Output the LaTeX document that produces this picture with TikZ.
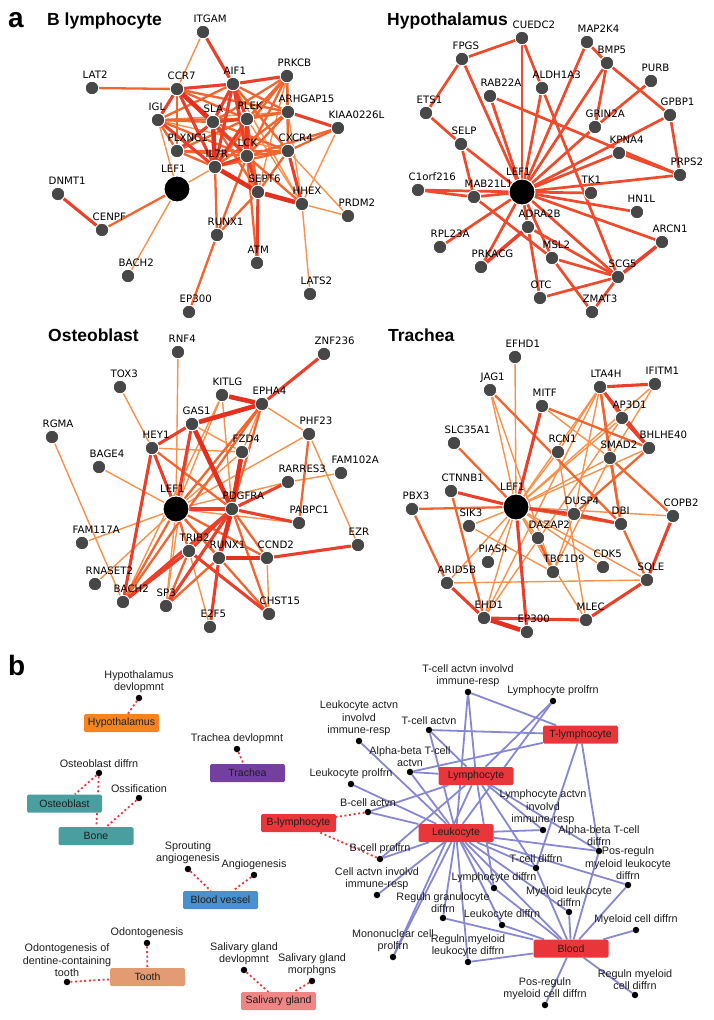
\documentclass[tikz,border=0pt]{standalone}
\usepackage{fontspec}
\setmainfont{Liberation Sans}
\newfontfamily\dvs{DejaVu Sans}
\pgfdeclarelayer{bg}
\pgfdeclarelayer{paper}
\pgfsetlayers{paper,bg,main}
\definecolor{cL}{HTML}{F7914C}
\definecolor{cM}{HTML}{F2652F}
\definecolor{cR}{HTML}{E8402A}
\definecolor{cT}{HTML}{E4301F}
\definecolor{cH}{HTML}{EE4B2D}
\definecolor{nd}{HTML}{474747}
\definecolor{blu}{RGB}{136,136,210}
\definecolor{rdd}{HTML}{E8393C}
\definecolor{bxred}{HTML}{E8363B}
\definecolor{bxorg}{HTML}{F5841F}
\definecolor{bxpur}{HTML}{7340A0}
\definecolor{bxtea}{HTML}{4A9EA0}
\definecolor{bxblu}{HTML}{4A90CC}
\definecolor{bxtan}{HTML}{E29B72}
\definecolor{bxpnk}{HTML}{F08585}
\definecolor{txt}{HTML}{1E1E1E}
\tikzset{
 gn/.style={circle,fill=nd,draw=white,line width=0.9pt,minimum size=13.5pt,inner sep=0pt},
 bign/.style={circle,fill=black,draw=white,line width=0.9pt,minimum size=26pt,inner sep=0pt},
 lb/.style={font=\dvs\fontsize{10.2}{11}\selectfont,inner sep=0pt,anchor=base west,text=black},
 eL/.style={draw=cL,line width=1.4pt},
 eM/.style={draw=cM,line width=2.3pt},
 eR/.style={draw=cR,line width=3.1pt},
 eT/.style={draw=cT,line width=4.6pt},
 eH/.style={draw=cH,line width=2.7pt},
 eHt/.style={draw=cR,line width=3.5pt},
 ttl/.style={font=\bfseries\fontsize{17.5}{20}\selectfont,anchor=base west,inner sep=0pt},
 pan/.style={font=\bfseries\fontsize{28}{30}\selectfont,anchor=base west,inner sep=0pt},
 bx/.style={rectangle,rounded corners=1.5pt,minimum width=75pt,minimum height=18pt,inner sep=0pt,text=txt,font=\fontsize{10.5}{12}\selectfont},
 dt/.style={circle,fill=black,minimum size=6.5pt,inner sep=0pt},
 dl/.style={font=\fontsize{10.8}{12.5}\selectfont,align=center,inner sep=0pt,text=txt},
 bE/.style={draw=blu,line width=1.8pt},
 rE/.style={draw=rdd,line width=1.8pt,dash pattern=on 2pt off 2.6pt},
}
\newcommand\gnode[4]{\node[gn] (#1) at (#2,#3) {}; \node[lb] (#1l) at ({#2-9.5},{#3-9.5}) {#4};}
\newcommand\bnode[3]{\node[bign] (#1) at (#2,#3) {}; \node[lb] (#1l) at ({#2-16},{#3-16.5}) {LEF1};}
\newcommand\dnode[4]{\node[dt,label={[dl,label distance=1.5pt]above:{#4}}] (#1) at (#2,#3) {};}
\begin{document}
\begin{tikzpicture}[x=1pt,y=-1pt]
\begin{pgfonlayer}{paper}
\fill[white] (0,0) rectangle (714,1020);
\end{pgfonlayer}
\useasboundingbox (0,0) rectangle (714,1020);
% ---------- panel labels and titles
\node[pan] (pa) at (8,27) {a};
\node[pan] (pb) at (8,675) {b};
\node[ttl] (t1) at (47,25) {B lymphocyte};
\node[ttl] (t2) at (387,25) {Hypothalamus};
\node[ttl] (t3) at (48,341) {Osteoblast};
\node[ttl] (t4) at (388,341) {Trachea};
% ---------- B lymphocyte
\gnode{AITGAM}{203}{32}{ITGAM}
\gnode{AAIF1}{233}{84}{AIF1}
\gnode{APRKCB}{287}{76}{PRKCB}
\gnode{ALAT2}{92}{88}{LAT2}
\gnode{ACCR7}{177}{89}{CCR7}
\gnode{AIGL}{158}{120}{IGL}
\gnode{ASLA}{213}{122}{SLA}
\gnode{APLEK}{247}{119}{PLEK}
\gnode{AARHGAP15}{288}{112}{ARHGAP15}
\gnode{AKIAA}{338}{128}{KIAA0226L}
\gnode{APLXNC1}{177}{151}{PLXNC1}
\gnode{ALCK}{247}{156}{LCK}
\gnode{ACXCR4}{288}{151}{CXCR4}
\gnode{AIL7R}{215}{167}{IL7R}
\bnode{ALEF1}{177}{189}
\gnode{ASEPT6}{258}{192}{SEPT6}
\gnode{AHHEX}{302}{204}{HHEX}
\gnode{APRDM2}{348}{216}{PRDM2}
\gnode{ADNMT1}{58}{194}{DNMT1}
\gnode{ACENPF}{102}{230}{CENPF}
\gnode{ARUNX1}{217}{235}{RUNX1}
\gnode{AATM}{257}{263}{ATM}
\gnode{ABACH2}{128}{276}{BACH2}
\gnode{ALATS2}{310}{294}{LATS2}
\gnode{AEP300}{189}{312}{EP300}
% ---------- Hypothalamus
\gnode{HCUEDC2}{522}{38}{CUEDC2}
\gnode{HMAP2K4}{587}{42}{MAP2K4}
\gnode{HFPGS}{462}{59}{FPGS}
\gnode{HBMP5}{607}{63}{BMP5}
\gnode{HPURB}{651}{81}{PURB}
\gnode{HALDH1A3}{542}{88}{ALDH1A3}
\gnode{HRAB22A}{490}{96}{RAB22A}
\gnode{HETS1}{426}{113}{ETS1}
\gnode{HGPBP1}{670}{115}{GPBP1}
\gnode{HGRIN2A}{595}{127}{GRIN2A}
\gnode{HSELP}{461}{144}{SELP}
\gnode{HKPNA4}{619}{153}{KPNA4}
\gnode{HPRPS2}{680}{175}{PRPS2}
\gnode{HC1orf216}{418}{190}{C1orf216}
\gnode{HMAB21L1}{474}{197}{MAB21L1}
\bnode{HLEF1}{522}{192}
\gnode{HTK1}{591}{193}{TK1}
\gnode{HHN1L}{637}{212}{HN1L}
\gnode{HADRA2B}{528}{227}{ADRA2B}
\gnode{HRPL23A}{440}{247}{RPL23A}
\gnode{HARCN1}{662}{242}{ARCN1}
\gnode{HMSL2}{552}{258}{MSL2}
\gnode{HPRKACG}{481}{267}{PRKACG}
\gnode{HSCG5}{618}{277}{SCG5}
\gnode{HOTC}{540}{298}{OTC}
\gnode{HZMAT3}{592}{312}{ZMAT3}
% ---------- Osteoblast
\gnode{ORNF4}{178}{352}{RNF4}
\gnode{OZNF236}{324}{354}{ZNF236}
\gnode{OTOX3}{120}{387}{TOX3}
\gnode{OKITLG}{222}{395}{KITLG}
\gnode{OEPHA4}{262}{404}{EPHA4}
\gnode{OGAS1}{192}{424}{GAS1}
\gnode{ORGMA}{52}{437}{RGMA}
\gnode{OPHF23}{309}{434}{PHF23}
\gnode{OHEY1}{152}{448}{HEY1}
\gnode{OFZD4}{242}{452}{FZD4}
\gnode{OBAGE4}{99}{467}{BAGE4}
\gnode{OFAM102A}{341}{473}{FAM102A}
\gnode{ORARRES3}{288}{482}{RARRES3}
\bnode{OLEF1}{176}{509}
\gnode{OPDGFRA}{232}{509}{PDGFRA}
\gnode{OPABPC1}{299}{523}{PABPC1}
\gnode{OFAM117A}{82}{543}{FAM117A}
\gnode{OEZR}{358}{545}{EZR}
\gnode{OTRIB2}{189}{551}{TRIB2}
\gnode{ORUNX1}{219}{558}{RUNX1}
\gnode{OCCND2}{267}{558}{CCND2}
\gnode{ORNASET2}{95}{584}{RNASET2}
\gnode{OBACH2}{123}{602}{BACH2}
\gnode{OSP3}{166}{606}{SP3}
\gnode{OCHST15}{269}{614}{CHST15}
\gnode{OE2F5}{210}{627}{E2F5}
% ---------- Trachea
\gnode{TEFHD1}{515}{357}{EFHD1}
\gnode{TIFITM1}{655}{384}{IFITM1}
\gnode{TLTA4H}{600}{387}{LTA4H}
\gnode{TJAG1}{490}{390}{JAG1}
\gnode{TMITF}{542}{406}{MITF}
\gnode{TAP3D1}{622}{418}{AP3D1}
\gnode{TSLC35A1}{454}{443}{SLC35A1}
\gnode{TBHLHE40}{649}{448}{BHLHE40}
\gnode{TRCN1}{558}{452}{RCN1}
\gnode{TSMAD2}{610}{458}{SMAD2}
\gnode{TCTNNB1}{451}{491}{CTNNB1}
\bnode{TLEF1}{516}{507}
\gnode{TPBX3}{412}{509}{PBX3}
\gnode{TDUSP4}{574}{514}{DUSP4}
\gnode{TCOPB2}{673}{516}{COPB2}
\gnode{TDBI}{621}{524}{DBI}
\gnode{TSIK3}{469}{526}{SIK3}
\gnode{TDAZAP2}{538}{538}{DAZAP2}
\gnode{TPIAS4}{488}{562}{PIAS4}
\gnode{TCDK5}{603}{567}{CDK5}
\gnode{TTBC1D9}{553}{572}{TBC1D9}
\gnode{TSQLE}{647}{580}{SQLE}
\gnode{TARID5B}{447}{583}{ARID5B}
\gnode{TEHD1}{484}{618}{EHD1}
\gnode{TMLEC}{586}{620}{MLEC}
\gnode{TEP300}{527}{632}{EP300}
% ---------- panel b boxes
\node[bx,fill=bxorg] (xHyp) at (121.5,723) {Hypothalamus};
\node[bx,fill=bxpur] (xTra) at (247.5,773) {Trachea};
\node[bx,fill=bxtea] (xOst) at (64.5,803.5) {Osteoblast};
\node[bx,fill=bxtea] (xBone) at (96,836) {Bone};
\node[bx,fill=bxblu] (xBv) at (220.5,900) {Blood vessel};
\node[bx,fill=bxtan] (xTooth) at (147.5,977) {Tooth};
\node[bx,fill=bxpnk] (xSal) at (278.5,1001) {Salivary gland};
\node[bx,fill=bxred] (xTly) at (580.5,734.5) {T-lymphocyte};
\node[bx,fill=bxred] (xLym) at (476,776) {Lymphocyte};
\node[bx,fill=bxred] (xBl) at (298.5,823) {B-lymphocyte};
\node[bx,fill=bxred] (xLeu) at (456,833) {Leukocyte};
\node[bx,fill=bxred] (xBlood) at (571,948.5) {Blood};
% ---------- panel b dots
\dnode{dHyp}{139}{698}{Hypothalamus\\devlopmnt}
\dnode{dTra}{237}{749}{Trachea devlopmnt}
\dnode{dOst}{99}{773}{Osteoblast diffrn}
\dnode{dOss}{139}{798}{Ossification}
\dnode{dSpr}{188}{869}{Sprouting\\angiogenesis}
\dnode{dAng}{254}{875}{Angiogenesis}
\dnode{dOdo}{147}{943}{Odontogenesis}
\dnode{dOdt}{67}{982}{Odontogenesis of\\dentine-containing\\tooth}
\dnode{dSgd}{244}{970}{Salivary gland\\devlopmnt}
\dnode{dSgm}{312}{981}{Salivary gland\\morphgns}
\dnode{dTai}{468}{692}{T-cell actvn involvd\\immune-resp}
\dnode{dLpr}{553}{701}{Lymphocyte prolfrn}
\dnode{dLai}{359}{741}{Leukocyte actvn\\involvd\\immune-resp}
\dnode{dTca}{429}{730}{T-cell actvn}
\dnode{dAba}{410}{772}{Alpha-beta T-cell\\actvn}
\dnode{dLkp}{351}{784}{Leukocyte prolfrn}
\dnode{dBca}{368}{812}{B-cell actvn}
\dnode{dLyai}{543}{830}{Lymphocyte actvn\\involvd\\immune-resp}
\dnode{dAbd}{599}{851}{Alpha-beta T-cell\\diffrn}
\dnode{dBcp}{380}{859}{B-cell prolfrn}
\dnode{dPml}{628}{885}{Pos-reguln\\myeloid leukocyte\\diffrn}
\dnode{dTcd}{536}{868}{T-cell diffrn}
\dnode{dCai}{377}{895}{Cell actvn involvd\\immune-resp}
\dnode{dLyd}{494}{888}{Lymphocyte diffrn}
\dnode{dMld}{569}{912}{Myeloid leukocyte\\diffrn}
\dnode{dRgd}{443}{918}{Reguln granulocyte\\diffrn}
\dnode{dLkd}{502}{925}{Leukocyte diffrn}
\dnode{dMcd}{636}{930}{Myeloid cell diffrn}
\dnode{dMnp}{393}{957}{Mononuclear cell\\prolfrn}
\dnode{dRml}{468}{962}{Reguln myeloid\\leukocyte diffrn}
\dnode{dRmc}{635}{995}{Reguln myeloid\\cell diffrn}
\dnode{dPmc}{545}{1005}{Pos-reguln\\myeloid cell diffrn}
% ---------- connectors
\begin{pgfonlayer}{bg}
% B lymphocyte
\foreach \a/\b in {AITGAM/ACCR7,AAIF1/AHHEX,APRKCB/ASEPT6,AARHGAP15/AIGL,AARHGAP15/AHHEX,AKIAA/AHHEX,ACXCR4/APRDM2,ACXCR4/AIGL,AIGL/ALEF1,APLEK/AHHEX,AIL7R/ALEF1,AHHEX/APRDM2,AHHEX/ALATS2,ALEF1/ABACH2}
  \draw[eL] (\a) -- (\b);
\foreach \a/\b in {ALAT2/ACCR7,ACCR7/APLEK,ACCR7/APLXNC1,ACCR7/AARHGAP15,AAIF1/AARHGAP15,AAIF1/ACXCR4,AAIF1/AIGL,AAIF1/ASEPT6,APRKCB/ASLA,APRKCB/APLEK,APRKCB/ALCK,APRKCB/AIL7R,APRKCB/AARHGAP15,APRKCB/ACXCR4,AARHGAP15/APLEK,AARHGAP15/ALCK,AARHGAP15/AIL7R,AARHGAP15/ASLA,AKIAA/ACXCR4,AKIAA/ALCK,ACXCR4/ASEPT6,ACXCR4/AIL7R,ACXCR4/ALCK,ACXCR4/APLXNC1,ACXCR4/ASLA,AIGL/APLXNC1,AIGL/ALCK,AIGL/ASLA,AIGL/APLEK,APLXNC1/AIL7R,APLXNC1/ALCK,APLXNC1/APLEK,ASLA/ASEPT6,APLEK/ASEPT6,ALCK/AHHEX,ALCK/ARUNX1,ALCK/AATM,AIL7R/ARUNX1,ASEPT6/ARUNX1,ALEF1/ACENPF,ARUNX1/AEP300}
  \draw[eM] (\a) -- (\b);
\foreach \a/\b in {AITGAM/AAIF1,ACCR7/AAIF1,AAIF1/APRKCB,ACCR7/AIGL,ACCR7/AIL7R,ACCR7/ALCK,AAIF1/ASLA,AAIF1/APLEK,AAIF1/AIL7R,AAIF1/ALCK,AARHGAP15/AKIAA,ACXCR4/AHHEX,AIGL/AIL7R,APLXNC1/ASLA,ASLA/ALCK,ASLA/APLEK,APLEK/ALCK,APLEK/AIL7R,ALCK/AIL7R,ALCK/ASEPT6,ASEPT6/AATM,ADNMT1/ACENPF}
  \draw[eR] (\a) -- (\b);
\foreach \a/\b in {ACCR7/ASLA,ASLA/AIL7R,AIL7R/ASEPT6,ASEPT6/AHHEX}
  \draw[eT] (\a) -- (\b);
% Hypothalamus
\foreach \a/\b in {HFPGS/HCUEDC2,HFPGS/HETS1,HFPGS/HLEF1,HCUEDC2/HLEF1,HCUEDC2/HALDH1A3,HMAP2K4/HLEF1,HMAP2K4/HBMP5,HBMP5/HGPBP1,HBMP5/HLEF1,HBMP5/HGRIN2A,HPURB/HGRIN2A,HGRIN2A/HLEF1,HALDH1A3/HLEF1,HALDH1A3/HSCG5,HRAB22A/HLEF1,HRAB22A/HPRPS2,HETS1/HSELP,HSELP/HLEF1,HSELP/HMAB21L1,HGPBP1/HLEF1,HGPBP1/HPRPS2,HKPNA4/HLEF1,HKPNA4/HPRPS2,HPRPS2/HLEF1,HC1orf216/HLEF1,HC1orf216/HMAB21L1,HMAB21L1/HLEF1,HMAB21L1/HMSL2,HTK1/HLEF1,HHN1L/HLEF1,HARCN1/HLEF1,HADRA2B/HLEF1,HADRA2B/HOTC,HADRA2B/HSCG5,HRPL23A/HLEF1,HPRKACG/HLEF1,HMSL2/HZMAT3,HMSL2/HSCG5,HLEF1/HSCG5,HLEF1/HMSL2,HSCG5/HOTC,HSCG5/HZMAT3}
  \draw[eH] (\a) -- (\b);
\foreach \a/\b in {HARCN1/HSCG5,HADRA2B/HPRKACG}
  \draw[eHt] (\a) -- (\b);
% Osteoblast
\foreach \a/\b in {ORNF4/OLEF1,OTOX3/OHEY1,OKITLG/OLEF1,OKITLG/OPDGFRA,OEPHA4/OPHF23,OEPHA4/OFZD4,OGAS1/OFZD4,ORGMA/OBACH2,OPHF23/OLEF1,OPHF23/OEZR,OHEY1/OFZD4,OFZD4/OLEF1,OBAGE4/OLEF1,OFAM102A/ORARRES3,ORARRES3/OLEF1,OLEF1/OPABPC1,OLEF1/OFAM117A,OLEF1/OSP3,OLEF1/ORNASET2,OCCND2/OCHST15,OTRIB2/OE2F5,OKITLG/OBACH2,OGAS1/OSP3}
  \draw[eL] (\a) -- (\b);
\foreach \a/\b in {OPHF23/OPABPC1,OHEY1/OPDGFRA,OEPHA4/OPDGFRA,OEPHA4/OLEF1,OEPHA4/OBACH2,OLEF1/OTRIB2,OLEF1/ORUNX1,OLEF1/OCHST15,OLEF1/OBACH2,OLEF1/OCCND2,OPDGFRA/OCCND2,OPDGFRA/OCHST15,OTRIB2/OSP3,ORUNX1/OSP3}
  \draw[eM] (\a) -- (\b);
\foreach \a/\b in {OZNF236/OEPHA4,OGAS1/OHEY1,OGAS1/OLEF1,OHEY1/OLEF1,OHEY1/OBACH2,ORARRES3/OPDGFRA,OLEF1/OPDGFRA,OPDGFRA/OPABPC1,OPDGFRA/OTRIB2,OPDGFRA/OSP3,OPDGFRA/OBACH2,OCCND2/OEZR,OTRIB2/OBACH2,OTRIB2/OCHST15,ORUNX1/OE2F5}
  \draw[eR] (\a) -- (\b);
\foreach \a/\b in {OKITLG/OEPHA4,OEPHA4/OGAS1,OGAS1/OPDGFRA,OFZD4/OPDGFRA,OPDGFRA/ORUNX1,OCCND2/ORUNX1}
  \draw[eT] (\a) -- (\b);
% Trachea
\foreach \a/\b in {TEFHD1/TLEF1,TJAG1/TLEF1,TJAG1/TTBC1D9,TMITF/TSMAD2,TLTA4H/TLEF1,TLTA4H/TDUSP4,TLTA4H/TRCN1,TLTA4H/TEHD1,TIFITM1/TLEF1,TIFITM1/TSMAD2,TAP3D1/TLEF1,TAP3D1/TEHD1,TBHLHE40/TLEF1,TRCN1/TLEF1,TRCN1/TMLEC,TSMAD2/TLEF1,TSMAD2/TTBC1D9,TLEF1/TCOPB2,TLEF1/TSIK3,TLEF1/TARID5B,TLEF1/TEHD1,TLEF1/TTBC1D9,TLEF1/TMLEC,TLEF1/TSQLE,TLEF1/TCDK5,TLEF1/TPIAS4,TLEF1/TDAZAP2,TDUSP4/TTBC1D9,TSIK3/TTBC1D9,TSQLE/TARID5B}
  \draw[eL] (\a) -- (\b);
\foreach \a/\b in {TJAG1/TDBI,TMITF/TBHLHE40,TLTA4H/TAP3D1,TLTA4H/TSMAD2,TLTA4H/TDBI,TBHLHE40/TDUSP4,TSLC35A1/TLEF1,TSMAD2/TCOPB2,TSMAD2/TDBI,TCTNNB1/TEHD1,TPBX3/TLEF1,TPBX3/TARID5B,TLEF1/TDBI,TDBI/TSQLE,TDAZAP2/TTBC1D9}
  \draw[eM] (\a) -- (\b);
\foreach \a/\b in {TMITF/TLEF1,TLTA4H/TIFITM1,TLTA4H/TBHLHE40,TAP3D1/TBHLHE40,TCTNNB1/TLEF1,TLEF1/TDUSP4,TLEF1/TEP300,TDUSP4/TDBI,TCOPB2/TSQLE,TSQLE/TMLEC,TARID5B/TEHD1,TEHD1/TMLEC}
  \draw[eR] (\a) -- (\b);
\draw[eT] (TEHD1) -- (TEP300);
% panel b
\foreach \a/\b in {dHyp/xHyp,dTra/xTra,dOst/xOst,dOst/xBone,dOss/xBone,dSpr/xBv,dAng/xBv,dOdo/xTooth,dOdt/xTooth,dSgd/xSal,dSgm/xSal,dBca/xBl,dBcp/xBl}
  \draw[rE] (\a) -- (\b);
\foreach \a in {dTai,dTca,dAba,dTcd,dAbd}
  \draw[bE] (\a) -- (xTly);
\foreach \a in {dTai,dLpr,dTca,dAba,dBca,dBcp,dLyai,dAbd,dTcd,dLyd,dMnp}
  \draw[bE] (\a) -- (xLym);
\foreach \a in {dTai,dLpr,dLai,dTca,dAba,dLkp,dBca,dLyai,dAbd,dBcp,dPml,dTcd,dCai,dLyd,dRgd,dLkd,dMnp,dRml,dMld,xBlood}
  \draw[bE] (\a) -- (xLeu);
\foreach \a in {dLkd,dLyd,dTcd,dMld,dAbd,dPml,dMcd,dRml,dRmc,dPmc,dRgd}
  \draw[bE] (\a) -- (xBlood);
\end{pgfonlayer}
\end{tikzpicture}
\end{document}
